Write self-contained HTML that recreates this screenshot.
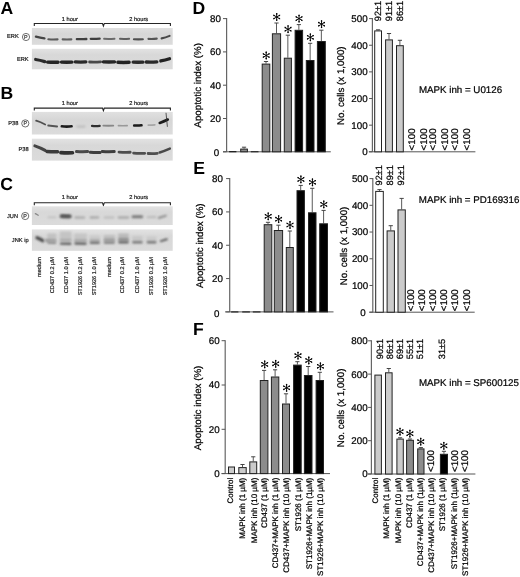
<!DOCTYPE html>
<html><head><meta charset="utf-8"><style>
html,body{margin:0;padding:0;background:#fff;width:520px;height:577px;overflow:hidden}
svg{display:block;font-family:"Liberation Sans", sans-serif;text-rendering:geometricPrecision;will-change:transform}
</style></head><body>
<svg width="520" height="577" viewBox="0 0 520 577">
<text x="0.60" y="14.40" font-size="17.6" text-anchor="start" font-weight="bold" fill="#000">A</text>
<text x="0.60" y="99.30" font-size="17.6" text-anchor="start" font-weight="bold" fill="#000">B</text>
<text x="0.30" y="190.30" font-size="17.6" text-anchor="start" font-weight="bold" fill="#000">C</text>
<text x="192.60" y="14.40" font-size="17.6" text-anchor="start" font-weight="bold" fill="#000">D</text>
<text x="193.30" y="173.60" font-size="17.6" text-anchor="start" font-weight="bold" fill="#000">E</text>
<text x="193.00" y="334.90" font-size="17.6" text-anchor="start" font-weight="bold" fill="#000">F</text>
<defs><filter id="bl" filterUnits="userSpaceOnUse" x="0" y="0" width="520" height="577"><feGaussianBlur stdDeviation="0.55"/></filter><filter id="bl15" filterUnits="userSpaceOnUse" x="0" y="0" width="520" height="577"><feGaussianBlur stdDeviation="0.75"/></filter><filter id="bl2" filterUnits="userSpaceOnUse" x="0" y="0" width="520" height="577"><feGaussianBlur stdDeviation="1.0"/></filter><linearGradient id="g1" x1="0" y1="0" x2="0" y2="1"><stop offset="0" stop-color="#e0e0e0"/><stop offset="0.35" stop-color="#d6d6d6"/><stop offset="1" stop-color="#dcdcdc"/></linearGradient><linearGradient id="g2" x1="0" y1="0" x2="0" y2="1"><stop offset="0" stop-color="#e2e2e2"/><stop offset="0.3" stop-color="#d8d8d8"/><stop offset="1" stop-color="#dbdbdb"/></linearGradient></defs>
<path d="M34.3 25.9V23.5H102.5L103.4 26.1L104.3 23.5H170.4V25.9" stroke="#262626" stroke-width="1.1" fill="none"/>
<text x="69.80" y="20.70" font-size="5.7" text-anchor="middle" font-weight="normal" fill="#222" stroke="#222" stroke-width="0.2">1 hour</text>
<text x="138.70" y="20.70" font-size="5.7" text-anchor="middle" font-weight="normal" fill="#222" stroke="#222" stroke-width="0.2">2 hours</text>
<text x="18.70" y="38.00" font-size="5.7" text-anchor="end" font-weight="normal" fill="#222" stroke="#222" stroke-width="0.2">ERK</text>
<circle cx="26.0" cy="37.0" r="3.6" stroke="#333" stroke-width="0.7" fill="none"/>
<text x="25.90" y="39.00" font-size="5.4" text-anchor="middle" font-weight="normal" fill="#333" stroke="#333" stroke-width="0.2">P</text>
<text x="28.60" y="61.00" font-size="5.7" text-anchor="end" font-weight="normal" fill="#222" stroke="#222" stroke-width="0.2">ERK</text>
<rect x="31.9" y="28.0" width="140.80" height="16.80" fill="url(#g1)"/>
<path d="M35.93 36.63Q40.20 37.80 44.47 38.37" stroke="#444" stroke-width="2.3" stroke-linecap="round" fill="none" filter="url(#bl15)"/>
<path d="M48.35 39.31Q52.95 39.65 57.55 39.39" stroke="#5a5a5a" stroke-width="2.1" stroke-linecap="round" fill="none" filter="url(#bl15)"/>
<path d="M62.65 39.40Q67.00 39.70 71.35 39.40" stroke="#5e5e5e" stroke-width="2.1" stroke-linecap="round" fill="none" filter="url(#bl15)"/>
<path d="M76.85 39.09Q81.60 39.35 86.35 39.01" stroke="#404040" stroke-width="2.3" stroke-linecap="round" fill="none" filter="url(#bl15)"/>
<path d="M90.75 38.78Q95.20 38.90 99.65 38.62" stroke="#3e3e3e" stroke-width="2.3" stroke-linecap="round" fill="none" filter="url(#bl15)"/>
<path d="M104.10 38.79Q109.30 39.05 114.50 38.71" stroke="#6a6a6a" stroke-width="2.0" stroke-linecap="round" fill="none" filter="url(#bl15)"/>
<path d="M120.00 38.79Q124.55 39.05 129.10 38.71" stroke="#5e5e5e" stroke-width="2.0" stroke-linecap="round" fill="none" filter="url(#bl15)"/>
<path d="M133.95 39.20Q138.40 39.50 142.85 39.20" stroke="#505050" stroke-width="2.1" stroke-linecap="round" fill="none" filter="url(#bl15)"/>
<path d="M148.45 38.87Q152.60 39.15 156.75 38.63" stroke="#545454" stroke-width="2.1" stroke-linecap="round" fill="none" filter="url(#bl15)"/>
<path d="M161.60 38.39Q165.60 37.75 169.60 35.91" stroke="#4a4a4a" stroke-width="2.1" stroke-linecap="round" fill="none" filter="url(#bl15)"/>
<rect x="31.9" y="48.8" width="140.80" height="20.50" fill="url(#g2)"/>
<path d="M35.66 59.47Q40.20 60.15 44.74 61.63" stroke="#2a2a2a" stroke-width="3.2" stroke-linecap="round" fill="none" filter="url(#bl15)"/>
<path d="M47.60 62.11Q52.85 62.45 58.10 62.19" stroke="#262626" stroke-width="3.4" stroke-linecap="round" fill="none" filter="url(#bl15)"/>
<path d="M61.50 62.10Q66.70 62.40 71.90 62.10" stroke="#262626" stroke-width="3.4" stroke-linecap="round" fill="none" filter="url(#bl15)"/>
<path d="M75.20 61.90Q80.55 62.20 85.90 61.90" stroke="#2c2c2c" stroke-width="3.2" stroke-linecap="round" fill="none" filter="url(#bl15)"/>
<path d="M89.60 61.98Q95.10 62.20 100.60 61.82" stroke="#4a4a4a" stroke-width="2.8" stroke-linecap="round" fill="none" filter="url(#bl15)"/>
<path d="M103.40 61.90Q108.95 62.20 114.50 61.90" stroke="#262626" stroke-width="3.4" stroke-linecap="round" fill="none" filter="url(#bl15)"/>
<path d="M117.90 62.30Q123.50 62.60 129.10 62.30" stroke="#222" stroke-width="3.4" stroke-linecap="round" fill="none" filter="url(#bl15)"/>
<path d="M133.15 62.10Q138.05 62.40 142.95 62.10" stroke="#2a2a2a" stroke-width="3.3" stroke-linecap="round" fill="none" filter="url(#bl15)"/>
<path d="M146.25 61.98Q151.55 62.20 156.85 61.82" stroke="#2a2a2a" stroke-width="3.3" stroke-linecap="round" fill="none" filter="url(#bl15)"/>
<path d="M160.80 60.98Q165.15 60.25 169.50 58.72" stroke="#222" stroke-width="3.3" stroke-linecap="round" fill="none" filter="url(#bl15)"/>
<path d="M34.3 110.5V108.1H102.5L103.4 110.69999999999999L104.3 108.1H170.4V110.5" stroke="#262626" stroke-width="1.1" fill="none"/>
<text x="69.80" y="104.80" font-size="5.7" text-anchor="middle" font-weight="normal" fill="#222" stroke="#222" stroke-width="0.2">1 hour</text>
<text x="138.70" y="104.80" font-size="5.7" text-anchor="middle" font-weight="normal" fill="#222" stroke="#222" stroke-width="0.2">2 hours</text>
<text x="18.30" y="125.40" font-size="5.7" text-anchor="end" font-weight="normal" fill="#222" stroke="#222" stroke-width="0.2">P38</text>
<circle cx="25.3" cy="123.4" r="3.6" stroke="#333" stroke-width="0.7" fill="none"/>
<text x="25.20" y="125.40" font-size="5.4" text-anchor="middle" font-weight="normal" fill="#333" stroke="#333" stroke-width="0.2">P</text>
<text x="28.60" y="151.20" font-size="5.7" text-anchor="end" font-weight="normal" fill="#222" stroke="#222" stroke-width="0.2">P38</text>
<rect x="31.9" y="111.9" width="140.80" height="22.60" fill="url(#g1)"/>
<path d="M36.13 120.65Q40.65 122.05 45.17 124.45" stroke="#505050" stroke-width="1.8" stroke-linecap="round" fill="none" filter="url(#bl)"/>
<path d="M48.19 125.50Q52.65 125.80 57.11 126.50" stroke="#555" stroke-width="1.8" stroke-linecap="round" fill="none" filter="url(#bl)"/>
<path d="M61.80 126.30Q66.70 126.90 71.60 126.30" stroke="#1e1e1e" stroke-width="2.6" stroke-linecap="round" fill="none" filter="url(#bl)"/>
<path d="M77.30 126.50Q80.90 126.70 84.50 126.50" stroke="#b8b8b8" stroke-width="1.8" stroke-linecap="round" fill="none" filter="url(#bl2)"/>
<path d="M92.05 125.90Q95.85 126.30 99.65 125.90" stroke="#2e2e2e" stroke-width="2.3" stroke-linecap="round" fill="none" filter="url(#bl)"/>
<path d="M103.30 125.60Q108.30 125.90 113.30 125.60" stroke="#888" stroke-width="1.8" stroke-linecap="round" fill="none" filter="url(#bl)"/>
<path d="M118.45 125.60Q122.80 125.90 127.15 125.60" stroke="#999" stroke-width="1.7" stroke-linecap="round" fill="none" filter="url(#bl)"/>
<path d="M134.20 125.47Q137.85 125.70 141.50 125.33" stroke="#1a1a1a" stroke-width="2.6" stroke-linecap="round" fill="none" filter="url(#bl)"/>
<path d="M148.20 125.16Q151.55 125.20 154.90 124.84" stroke="#a6a6a6" stroke-width="1.6" stroke-linecap="round" fill="none" filter="url(#bl)"/>
<path d="M159.70 122.90Q163.75 121.50 167.80 119.50" stroke="#1e1e1e" stroke-width="2.6" stroke-linecap="round" fill="none" filter="url(#bl)"/>
<line x1="166.00" y1="112.80" x2="167.40" y2="126.80" stroke="#333" stroke-width="0.8"/>
<rect x="31.9" y="138.7" width="140.80" height="21.90" fill="url(#g2)"/>
<path d="M34.87 145.90Q40.00 147.55 45.13 150.40" stroke="#444" stroke-width="3.0" stroke-linecap="round" fill="none" filter="url(#bl15)"/>
<path d="M46.90 151.45Q52.25 151.90 57.60 151.75" stroke="#3a3a3a" stroke-width="3.4" stroke-linecap="round" fill="none" filter="url(#bl15)"/>
<path d="M60.90 152.62Q66.70 153.10 72.50 152.78" stroke="#303030" stroke-width="3.6" stroke-linecap="round" fill="none" filter="url(#bl15)"/>
<path d="M76.50 151.51Q82.05 151.85 87.60 151.59" stroke="#484848" stroke-width="3.0" stroke-linecap="round" fill="none" filter="url(#bl15)"/>
<path d="M90.40 152.32Q95.20 152.70 100.00 152.48" stroke="#3c3c3c" stroke-width="3.0" stroke-linecap="round" fill="none" filter="url(#bl15)"/>
<path d="M102.30 151.51Q108.25 151.85 114.20 151.59" stroke="#3e3e3e" stroke-width="3.0" stroke-linecap="round" fill="none" filter="url(#bl15)"/>
<path d="M119.05 152.12Q124.60 152.50 130.15 152.28" stroke="#4e4e4e" stroke-width="2.9" stroke-linecap="round" fill="none" filter="url(#bl15)"/>
<path d="M133.60 153.21Q139.15 153.55 144.70 153.29" stroke="#505050" stroke-width="2.8" stroke-linecap="round" fill="none" filter="url(#bl15)"/>
<path d="M148.10 153.49Q152.70 153.75 157.30 153.41" stroke="#505050" stroke-width="2.8" stroke-linecap="round" fill="none" filter="url(#bl15)"/>
<path d="M159.67 152.45Q164.75 150.80 169.83 148.55" stroke="#4a4a4a" stroke-width="2.5" stroke-linecap="round" fill="none" filter="url(#bl15)"/>
<path d="M34.3 205.20000000000002V202.8H102.5L103.4 205.4L104.3 202.8H170.4V205.20000000000002" stroke="#262626" stroke-width="1.1" fill="none"/>
<text x="69.80" y="198.60" font-size="5.7" text-anchor="middle" font-weight="normal" fill="#222" stroke="#222" stroke-width="0.2">1 hour</text>
<text x="138.70" y="198.60" font-size="5.7" text-anchor="middle" font-weight="normal" fill="#222" stroke="#222" stroke-width="0.2">2 hours</text>
<text x="18.00" y="217.60" font-size="5.7" text-anchor="end" font-weight="normal" fill="#222" stroke="#222" stroke-width="0.2">JUN</text>
<circle cx="25.2" cy="216.0" r="3.6" stroke="#333" stroke-width="0.7" fill="none"/>
<text x="25.10" y="218.00" font-size="5.4" text-anchor="middle" font-weight="normal" fill="#333" stroke="#333" stroke-width="0.2">P</text>
<text x="28.60" y="242.30" font-size="5.7" text-anchor="end" font-weight="normal" fill="#222" stroke="#222" stroke-width="0.2">JNK ip</text>
<rect x="31.9" y="206.3" width="140.80" height="18.70" fill="url(#g2)"/>
<path d="M35.41 213.65Q36.80 214.45 38.19 215.25" stroke="#8a8a8a" stroke-width="1.4" stroke-linecap="round" fill="none" filter="url(#bl)"/>
<path d="M48.75 217.20Q52.00 217.20 55.25 217.20" stroke="#c6c6c6" stroke-width="2.5" stroke-linecap="round" fill="none" filter="url(#bl2)"/>
<path d="M61.50 216.32Q65.65 216.55 69.80 216.38" stroke="#6a6a6a" stroke-width="4.0" stroke-linecap="round" fill="none" filter="url(#bl2)"/>
<path d="M61.90 216.02Q65.75 216.10 69.60 216.18" stroke="#4a4a4a" stroke-width="1.8" stroke-linecap="round" fill="none" filter="url(#bl2)"/>
<path d="M75.70 217.51Q79.85 217.55 84.00 217.59" stroke="#b2b2b2" stroke-width="2.8" stroke-linecap="round" fill="none" filter="url(#bl2)"/>
<path d="M90.80 217.49Q94.45 217.45 98.10 217.41" stroke="#a8a8a8" stroke-width="2.4" stroke-linecap="round" fill="none" filter="url(#bl2)"/>
<path d="M104.75 217.60Q109.00 217.60 113.25 217.60" stroke="#c0c0c0" stroke-width="2.5" stroke-linecap="round" fill="none" filter="url(#bl2)"/>
<path d="M119.00 217.50Q123.50 217.50 128.00 217.50" stroke="#b0b0b0" stroke-width="2.8" stroke-linecap="round" fill="none" filter="url(#bl2)"/>
<path d="M133.00 216.80Q137.35 216.80 141.70 216.80" stroke="#7a7a7a" stroke-width="3.0" stroke-linecap="round" fill="none" filter="url(#bl2)"/>
<path d="M147.90 217.09Q151.55 217.05 155.20 217.01" stroke="#bbb" stroke-width="2.4" stroke-linecap="round" fill="none" filter="url(#bl2)"/>
<path d="M158.85 217.87Q162.30 216.80 165.75 215.73" stroke="#929292" stroke-width="2.2" stroke-linecap="round" fill="none" filter="url(#bl2)"/>
<rect x="31.9" y="229.4" width="140.80" height="21.40" fill="url(#g2)"/>
<rect x="47.3" y="233.5" width="9.0" height="9" fill="#c2c2c2" filter="url(#bl2)"/>
<rect x="59.8" y="231.5" width="11.7" height="10" fill="#c4c4c4" filter="url(#bl2)"/>
<rect x="74.3" y="233.5" width="12.5" height="8" fill="#c6c6c6" filter="url(#bl2)"/>
<rect x="89.6" y="235.5" width="10.3" height="6" fill="#cacaca" filter="url(#bl2)"/>
<rect x="103.8" y="235.0" width="11.1" height="7" fill="#c0c0c0" filter="url(#bl2)"/>
<rect x="118.3" y="233.5" width="10.4" height="8" fill="#bababa" filter="url(#bl2)"/>
<rect x="132.2" y="236.0" width="10.4" height="5" fill="#c8c8c8" filter="url(#bl2)"/>
<rect x="146.7" y="236.5" width="9.7" height="5" fill="#cacaca" filter="url(#bl2)"/>
<path d="M37.02 237.77Q39.85 238.90 42.68 240.63" stroke="#4a4a4a" stroke-width="3.4" stroke-linecap="round" fill="none" filter="url(#bl2)"/>
<path d="M45.72 240.27Q46.75 240.50 47.78 240.73" stroke="#9a9a9a" stroke-width="2.5" stroke-linecap="round" fill="none" filter="url(#bl2)"/>
<path d="M48.30 240.02Q51.80 240.10 55.30 240.18" stroke="#9a9a9a" stroke-width="2.0" stroke-linecap="round" fill="none" filter="url(#bl2)"/>
<path d="M48.40 242.62Q51.80 242.70 55.20 242.78" stroke="#8a8a8a" stroke-width="2.2" stroke-linecap="round" fill="none" filter="url(#bl2)"/>
<path d="M60.60 240.00Q65.65 240.00 70.70 240.00" stroke="#a0a0a0" stroke-width="1.6" stroke-linecap="round" fill="none" filter="url(#bl2)"/>
<path d="M61.00 243.61Q65.65 243.65 70.30 243.69" stroke="#5e5e5e" stroke-width="2.4" stroke-linecap="round" fill="none" filter="url(#bl2)"/>
<path d="M75.20 240.40Q80.55 240.40 85.90 240.40" stroke="#9c9c9c" stroke-width="1.8" stroke-linecap="round" fill="none" filter="url(#bl2)"/>
<path d="M75.60 243.42Q80.55 243.50 85.50 243.58" stroke="#6a6a6a" stroke-width="2.6" stroke-linecap="round" fill="none" filter="url(#bl2)"/>
<path d="M90.40 240.20Q94.75 240.20 99.10 240.20" stroke="#a0a0a0" stroke-width="1.6" stroke-linecap="round" fill="none" filter="url(#bl2)"/>
<path d="M90.80 242.80Q94.75 242.80 98.70 242.80" stroke="#6e6e6e" stroke-width="2.4" stroke-linecap="round" fill="none" filter="url(#bl2)"/>
<path d="M104.80 239.80Q109.35 239.80 113.90 239.80" stroke="#959595" stroke-width="2.0" stroke-linecap="round" fill="none" filter="url(#bl2)"/>
<path d="M105.00 242.60Q109.35 242.60 113.70 242.60" stroke="#7a7a7a" stroke-width="2.4" stroke-linecap="round" fill="none" filter="url(#bl2)"/>
<path d="M119.40 239.40Q123.50 239.40 127.60 239.40" stroke="#888" stroke-width="2.2" stroke-linecap="round" fill="none" filter="url(#bl2)"/>
<path d="M119.60 242.20Q123.50 242.20 127.40 242.20" stroke="#666" stroke-width="2.6" stroke-linecap="round" fill="none" filter="url(#bl2)"/>
<path d="M133.40 242.20Q137.40 242.20 141.40 242.20" stroke="#767676" stroke-width="2.4" stroke-linecap="round" fill="none" filter="url(#bl2)"/>
<path d="M147.90 242.20Q151.55 242.20 155.20 242.20" stroke="#767676" stroke-width="2.4" stroke-linecap="round" fill="none" filter="url(#bl2)"/>
<path d="M160.86 241.11Q163.85 240.20 166.84 239.29" stroke="#5a5a5a" stroke-width="2.0" stroke-linecap="round" fill="none" filter="url(#bl2)"/>
<text x="40.70" y="257.00" font-size="5.6" text-anchor="end" font-weight="normal" fill="#222" transform="rotate(-90 40.7 257.0)" stroke="#222" stroke-width="0.2">medium</text>
<text x="53.60" y="257.00" font-size="5.6" text-anchor="end" font-weight="normal" fill="#222" transform="rotate(-90 53.6 257.0)" stroke="#222" stroke-width="0.2">CD437 0.2 µM</text>
<text x="68.00" y="257.00" font-size="5.6" text-anchor="end" font-weight="normal" fill="#222" transform="rotate(-90 68.0 257.0)" stroke="#222" stroke-width="0.2">CD437 1.0 µM</text>
<text x="81.60" y="257.00" font-size="5.6" text-anchor="end" font-weight="normal" fill="#222" transform="rotate(-90 81.6 257.0)" stroke="#222" stroke-width="0.2">ST1926 0.2 µM</text>
<text x="96.00" y="257.00" font-size="5.6" text-anchor="end" font-weight="normal" fill="#222" transform="rotate(-90 96.0 257.0)" stroke="#222" stroke-width="0.2">ST1926 1.0 µM</text>
<text x="111.30" y="257.00" font-size="5.6" text-anchor="end" font-weight="normal" fill="#222" transform="rotate(-90 111.3 257.0)" stroke="#222" stroke-width="0.2">medium</text>
<text x="124.30" y="257.00" font-size="5.6" text-anchor="end" font-weight="normal" fill="#222" transform="rotate(-90 124.3 257.0)" stroke="#222" stroke-width="0.2">CD437 0.2 µM</text>
<text x="138.70" y="257.00" font-size="5.6" text-anchor="end" font-weight="normal" fill="#222" transform="rotate(-90 138.7 257.0)" stroke="#222" stroke-width="0.2">CD437 1.0 µM</text>
<text x="152.60" y="257.00" font-size="5.6" text-anchor="end" font-weight="normal" fill="#222" transform="rotate(-90 152.6 257.0)" stroke="#222" stroke-width="0.2">ST1926 0.2 µM</text>
<text x="167.00" y="257.00" font-size="5.6" text-anchor="end" font-weight="normal" fill="#222" transform="rotate(-90 167.0 257.0)" stroke="#222" stroke-width="0.2">ST1926 1.0 µM</text>
<line x1="226.60" y1="18.10" x2="226.60" y2="151.80" stroke="#666" stroke-width="1.2"/>
<line x1="223.00" y1="18.60" x2="226.60" y2="18.60" stroke="#555" stroke-width="1"/>
<text x="220.90" y="22.05" font-size="9.75" text-anchor="end" font-weight="normal" fill="#000" stroke="#000" stroke-width="0.22">80</text>
<line x1="223.00" y1="51.90" x2="226.60" y2="51.90" stroke="#555" stroke-width="1"/>
<text x="220.90" y="55.35" font-size="9.75" text-anchor="end" font-weight="normal" fill="#000" stroke="#000" stroke-width="0.22">60</text>
<line x1="223.00" y1="85.20" x2="226.60" y2="85.20" stroke="#555" stroke-width="1"/>
<text x="220.90" y="88.65" font-size="9.75" text-anchor="end" font-weight="normal" fill="#000" stroke="#000" stroke-width="0.22">40</text>
<line x1="223.00" y1="118.50" x2="226.60" y2="118.50" stroke="#555" stroke-width="1"/>
<text x="220.90" y="121.95" font-size="9.75" text-anchor="end" font-weight="normal" fill="#000" stroke="#000" stroke-width="0.22">20</text>
<line x1="223.00" y1="151.80" x2="226.60" y2="151.80" stroke="#555" stroke-width="1"/>
<text x="219.10" y="155.85" font-size="9.75" text-anchor="end" font-weight="normal" fill="#000" stroke="#000" stroke-width="0.22">0</text>
<line x1="223.00" y1="151.80" x2="330.80" y2="151.80" stroke="#555" stroke-width="1"/>
<rect x="229.60" y="151.50" width="6.30" height="0.30" fill="#000" stroke="#222" stroke-width="1"/>
<line x1="244.05" y1="147.20" x2="244.05" y2="148.60" stroke="#5a5a5a" stroke-width="1"/>
<line x1="241.95" y1="147.20" x2="246.15" y2="147.20" stroke="#444" stroke-width="1"/>
<rect x="240.70" y="149.10" width="6.70" height="2.70" fill="#8c8c8c" stroke="#222" stroke-width="1"/>
<rect x="251.30" y="151.70" width="6.70" height="0.10" fill="#000" stroke="#222" stroke-width="1"/>
<line x1="266.00" y1="61.50" x2="266.00" y2="63.60" stroke="#5a5a5a" stroke-width="1"/>
<line x1="263.90" y1="61.50" x2="268.10" y2="61.50" stroke="#444" stroke-width="1"/>
<rect x="262.20" y="64.10" width="7.60" height="87.70" fill="#8c8c8c" stroke="#222" stroke-width="1"/>
<path d="M266.20 51.60L266.20 59.40M262.82 53.55L269.58 57.45M269.58 53.55L262.82 57.45" stroke="#000" stroke-width="0.95" fill="none"/><g fill="#000"><circle cx="268.90" cy="57.06" r="0.78"/><circle cx="266.20" cy="58.62" r="0.78"/><circle cx="263.50" cy="57.06" r="0.78"/><circle cx="263.50" cy="53.94" r="0.78"/><circle cx="266.20" cy="52.38" r="0.78"/><circle cx="268.90" cy="53.94" r="0.78"/></g>
<line x1="276.50" y1="23.00" x2="276.50" y2="33.30" stroke="#5a5a5a" stroke-width="1"/>
<line x1="274.40" y1="23.00" x2="278.60" y2="23.00" stroke="#444" stroke-width="1"/>
<rect x="272.40" y="33.80" width="8.20" height="118.00" fill="#8c8c8c" stroke="#222" stroke-width="1"/>
<path d="M276.70 13.10L276.70 20.90M273.32 15.05L280.08 18.95M280.08 15.05L273.32 18.95" stroke="#000" stroke-width="0.95" fill="none"/><g fill="#000"><circle cx="279.40" cy="18.56" r="0.78"/><circle cx="276.70" cy="20.12" r="0.78"/><circle cx="274.00" cy="18.56" r="0.78"/><circle cx="274.00" cy="15.44" r="0.78"/><circle cx="276.70" cy="13.88" r="0.78"/><circle cx="279.40" cy="15.44" r="0.78"/></g>
<line x1="287.85" y1="35.20" x2="287.85" y2="57.70" stroke="#5a5a5a" stroke-width="1"/>
<line x1="285.75" y1="35.20" x2="289.95" y2="35.20" stroke="#444" stroke-width="1"/>
<rect x="284.30" y="58.20" width="7.10" height="93.60" fill="#8c8c8c" stroke="#222" stroke-width="1"/>
<path d="M288.05 25.30L288.05 33.10M284.67 27.25L291.43 31.15M291.43 27.25L284.67 31.15" stroke="#000" stroke-width="0.95" fill="none"/><g fill="#000"><circle cx="290.75" cy="30.76" r="0.78"/><circle cx="288.05" cy="32.32" r="0.78"/><circle cx="285.35" cy="30.76" r="0.78"/><circle cx="285.35" cy="27.64" r="0.78"/><circle cx="288.05" cy="26.08" r="0.78"/><circle cx="290.75" cy="27.64" r="0.78"/></g>
<line x1="298.85" y1="24.60" x2="298.85" y2="29.80" stroke="#5a5a5a" stroke-width="1"/>
<line x1="296.75" y1="24.60" x2="300.95" y2="24.60" stroke="#444" stroke-width="1"/>
<rect x="295.10" y="30.30" width="7.50" height="121.50" fill="#000" stroke="#222" stroke-width="1"/>
<path d="M299.05 14.70L299.05 22.50M295.67 16.65L302.43 20.55M302.43 16.65L295.67 20.55" stroke="#000" stroke-width="0.95" fill="none"/><g fill="#000"><circle cx="301.75" cy="20.16" r="0.78"/><circle cx="299.05" cy="21.72" r="0.78"/><circle cx="296.35" cy="20.16" r="0.78"/><circle cx="296.35" cy="17.04" r="0.78"/><circle cx="299.05" cy="15.48" r="0.78"/><circle cx="301.75" cy="17.04" r="0.78"/></g>
<line x1="310.15" y1="43.30" x2="310.15" y2="60.00" stroke="#5a5a5a" stroke-width="1"/>
<line x1="308.05" y1="43.30" x2="312.25" y2="43.30" stroke="#444" stroke-width="1"/>
<rect x="306.30" y="60.50" width="7.70" height="91.30" fill="#000" stroke="#222" stroke-width="1"/>
<path d="M310.35 33.40L310.35 41.20M306.97 35.35L313.73 39.25M313.73 35.35L306.97 39.25" stroke="#000" stroke-width="0.95" fill="none"/><g fill="#000"><circle cx="313.05" cy="38.86" r="0.78"/><circle cx="310.35" cy="40.42" r="0.78"/><circle cx="307.65" cy="38.86" r="0.78"/><circle cx="307.65" cy="35.74" r="0.78"/><circle cx="310.35" cy="34.18" r="0.78"/><circle cx="313.05" cy="35.74" r="0.78"/></g>
<line x1="321.35" y1="30.20" x2="321.35" y2="41.00" stroke="#5a5a5a" stroke-width="1"/>
<line x1="319.25" y1="30.20" x2="323.45" y2="30.20" stroke="#444" stroke-width="1"/>
<rect x="317.40" y="41.50" width="7.90" height="110.30" fill="#000" stroke="#222" stroke-width="1"/>
<path d="M321.55 20.30L321.55 28.10M318.17 22.25L324.93 26.15M324.93 22.25L318.17 26.15" stroke="#000" stroke-width="0.95" fill="none"/><g fill="#000"><circle cx="324.25" cy="25.76" r="0.78"/><circle cx="321.55" cy="27.32" r="0.78"/><circle cx="318.85" cy="25.76" r="0.78"/><circle cx="318.85" cy="22.64" r="0.78"/><circle cx="321.55" cy="21.08" r="0.78"/><circle cx="324.25" cy="22.64" r="0.78"/></g>
<text x="201.20" y="85.35" font-size="9.75" text-anchor="middle" font-weight="normal" fill="#000" transform="rotate(-90 201.2 85.35)" stroke="#000" stroke-width="0.22">Apoptotic index (%)</text>
<line x1="229.70" y1="178.10" x2="229.70" y2="311.90" stroke="#666" stroke-width="1.2"/>
<line x1="226.10" y1="178.60" x2="229.70" y2="178.60" stroke="#555" stroke-width="1"/>
<text x="222.90" y="182.05" font-size="9.75" text-anchor="end" font-weight="normal" fill="#000" stroke="#000" stroke-width="0.22">80</text>
<line x1="226.10" y1="211.92" x2="229.70" y2="211.92" stroke="#555" stroke-width="1"/>
<text x="222.90" y="215.37" font-size="9.75" text-anchor="end" font-weight="normal" fill="#000" stroke="#000" stroke-width="0.22">60</text>
<line x1="226.10" y1="245.25" x2="229.70" y2="245.25" stroke="#555" stroke-width="1"/>
<text x="222.90" y="248.70" font-size="9.75" text-anchor="end" font-weight="normal" fill="#000" stroke="#000" stroke-width="0.22">40</text>
<line x1="226.10" y1="278.57" x2="229.70" y2="278.57" stroke="#555" stroke-width="1"/>
<text x="222.90" y="282.02" font-size="9.75" text-anchor="end" font-weight="normal" fill="#000" stroke="#000" stroke-width="0.22">20</text>
<line x1="226.10" y1="311.90" x2="229.70" y2="311.90" stroke="#555" stroke-width="1"/>
<text x="219.50" y="316.55" font-size="9.75" text-anchor="end" font-weight="normal" fill="#000" stroke="#000" stroke-width="0.22">0</text>
<line x1="225.00" y1="311.90" x2="333.50" y2="311.90" stroke="#555" stroke-width="1"/>
<rect x="231.60" y="311.90" width="6.30" height="0.10" fill="#000" stroke="#222" stroke-width="1"/>
<rect x="242.70" y="311.90" width="6.70" height="0.10" fill="#000" stroke="#222" stroke-width="1"/>
<rect x="253.30" y="311.90" width="6.70" height="0.10" fill="#000" stroke="#222" stroke-width="1"/>
<line x1="268.00" y1="222.30" x2="268.00" y2="224.20" stroke="#5a5a5a" stroke-width="1"/>
<line x1="265.90" y1="222.30" x2="270.10" y2="222.30" stroke="#444" stroke-width="1"/>
<rect x="264.20" y="224.70" width="7.60" height="87.20" fill="#8c8c8c" stroke="#222" stroke-width="1"/>
<path d="M268.20 212.40L268.20 220.20M264.82 214.35L271.58 218.25M271.58 214.35L264.82 218.25" stroke="#000" stroke-width="0.95" fill="none"/><g fill="#000"><circle cx="270.90" cy="217.86" r="0.78"/><circle cx="268.20" cy="219.42" r="0.78"/><circle cx="265.50" cy="217.86" r="0.78"/><circle cx="265.50" cy="214.74" r="0.78"/><circle cx="268.20" cy="213.18" r="0.78"/><circle cx="270.90" cy="214.74" r="0.78"/></g>
<line x1="278.45" y1="225.20" x2="278.45" y2="230.00" stroke="#5a5a5a" stroke-width="1"/>
<line x1="276.35" y1="225.20" x2="280.55" y2="225.20" stroke="#444" stroke-width="1"/>
<rect x="274.30" y="230.50" width="8.30" height="81.40" fill="#8c8c8c" stroke="#222" stroke-width="1"/>
<path d="M278.65 215.30L278.65 223.10M275.27 217.25L282.03 221.15M282.03 217.25L275.27 221.15" stroke="#000" stroke-width="0.95" fill="none"/><g fill="#000"><circle cx="281.35" cy="220.76" r="0.78"/><circle cx="278.65" cy="222.32" r="0.78"/><circle cx="275.95" cy="220.76" r="0.78"/><circle cx="275.95" cy="217.64" r="0.78"/><circle cx="278.65" cy="216.08" r="0.78"/><circle cx="281.35" cy="217.64" r="0.78"/></g>
<line x1="289.80" y1="231.00" x2="289.80" y2="247.00" stroke="#5a5a5a" stroke-width="1"/>
<line x1="287.70" y1="231.00" x2="291.90" y2="231.00" stroke="#444" stroke-width="1"/>
<rect x="286.30" y="247.50" width="7.00" height="64.40" fill="#8c8c8c" stroke="#222" stroke-width="1"/>
<path d="M290.00 221.10L290.00 228.90M286.62 223.05L293.38 226.95M293.38 223.05L286.62 226.95" stroke="#000" stroke-width="0.95" fill="none"/><g fill="#000"><circle cx="292.70" cy="226.56" r="0.78"/><circle cx="290.00" cy="228.12" r="0.78"/><circle cx="287.30" cy="226.56" r="0.78"/><circle cx="287.30" cy="223.44" r="0.78"/><circle cx="290.00" cy="221.88" r="0.78"/><circle cx="292.70" cy="223.44" r="0.78"/></g>
<line x1="300.70" y1="185.40" x2="300.70" y2="190.20" stroke="#5a5a5a" stroke-width="1"/>
<line x1="298.60" y1="185.40" x2="302.80" y2="185.40" stroke="#444" stroke-width="1"/>
<rect x="297.00" y="190.70" width="7.40" height="121.20" fill="#000" stroke="#222" stroke-width="1"/>
<path d="M300.90 175.50L300.90 183.30M297.52 177.45L304.28 181.35M304.28 177.45L297.52 181.35" stroke="#000" stroke-width="0.95" fill="none"/><g fill="#000"><circle cx="303.60" cy="180.96" r="0.78"/><circle cx="300.90" cy="182.52" r="0.78"/><circle cx="298.20" cy="180.96" r="0.78"/><circle cx="298.20" cy="177.84" r="0.78"/><circle cx="300.90" cy="176.28" r="0.78"/><circle cx="303.60" cy="177.84" r="0.78"/></g>
<line x1="312.25" y1="188.30" x2="312.25" y2="212.30" stroke="#5a5a5a" stroke-width="1"/>
<line x1="310.15" y1="188.30" x2="314.35" y2="188.30" stroke="#444" stroke-width="1"/>
<rect x="308.50" y="212.80" width="7.50" height="99.10" fill="#000" stroke="#222" stroke-width="1"/>
<path d="M312.45 178.40L312.45 186.20M309.07 180.35L315.83 184.25M315.83 180.35L309.07 184.25" stroke="#000" stroke-width="0.95" fill="none"/><g fill="#000"><circle cx="315.15" cy="183.86" r="0.78"/><circle cx="312.45" cy="185.42" r="0.78"/><circle cx="309.75" cy="183.86" r="0.78"/><circle cx="309.75" cy="180.74" r="0.78"/><circle cx="312.45" cy="179.18" r="0.78"/><circle cx="315.15" cy="180.74" r="0.78"/></g>
<line x1="323.60" y1="210.40" x2="323.60" y2="223.30" stroke="#5a5a5a" stroke-width="1"/>
<line x1="321.50" y1="210.40" x2="325.70" y2="210.40" stroke="#444" stroke-width="1"/>
<rect x="319.70" y="223.80" width="7.80" height="88.10" fill="#000" stroke="#222" stroke-width="1"/>
<path d="M323.80 200.50L323.80 208.30M320.42 202.45L327.18 206.35M327.18 202.45L320.42 206.35" stroke="#000" stroke-width="0.95" fill="none"/><g fill="#000"><circle cx="326.50" cy="205.96" r="0.78"/><circle cx="323.80" cy="207.52" r="0.78"/><circle cx="321.10" cy="205.96" r="0.78"/><circle cx="321.10" cy="202.84" r="0.78"/><circle cx="323.80" cy="201.28" r="0.78"/><circle cx="326.50" cy="202.84" r="0.78"/></g>
<text x="203.40" y="245.70" font-size="9.75" text-anchor="middle" font-weight="normal" fill="#000" transform="rotate(-90 203.4 245.7)" stroke="#000" stroke-width="0.22">Apoptotic index (%)</text>
<line x1="225.20" y1="340.20" x2="225.20" y2="473.60" stroke="#666" stroke-width="1.2"/>
<line x1="221.60" y1="340.70" x2="225.20" y2="340.70" stroke="#555" stroke-width="1"/>
<text x="219.70" y="344.15" font-size="9.75" text-anchor="end" font-weight="normal" fill="#000" stroke="#000" stroke-width="0.22">60</text>
<line x1="221.60" y1="385.00" x2="225.20" y2="385.00" stroke="#555" stroke-width="1"/>
<text x="219.70" y="388.45" font-size="9.75" text-anchor="end" font-weight="normal" fill="#000" stroke="#000" stroke-width="0.22">40</text>
<line x1="221.60" y1="429.30" x2="225.20" y2="429.30" stroke="#555" stroke-width="1"/>
<text x="219.70" y="432.75" font-size="9.75" text-anchor="end" font-weight="normal" fill="#000" stroke="#000" stroke-width="0.22">20</text>
<line x1="221.60" y1="473.60" x2="225.20" y2="473.60" stroke="#555" stroke-width="1"/>
<text x="219.70" y="477.05" font-size="9.75" text-anchor="end" font-weight="normal" fill="#000" stroke="#000" stroke-width="0.22">0</text>
<line x1="221.60" y1="473.60" x2="330.00" y2="473.60" stroke="#555" stroke-width="1"/>
<rect x="228.50" y="467.00" width="6.00" height="6.60" fill="#cbcbcb" stroke="#222" stroke-width="1"/>
<line x1="242.50" y1="464.50" x2="242.50" y2="467.10" stroke="#5a5a5a" stroke-width="1"/>
<line x1="240.40" y1="464.50" x2="244.60" y2="464.50" stroke="#444" stroke-width="1"/>
<rect x="238.80" y="467.60" width="7.40" height="6.00" fill="#cbcbcb" stroke="#222" stroke-width="1"/>
<line x1="253.25" y1="456.80" x2="253.25" y2="461.40" stroke="#5a5a5a" stroke-width="1"/>
<line x1="251.15" y1="456.80" x2="255.35" y2="456.80" stroke="#444" stroke-width="1"/>
<rect x="249.80" y="461.90" width="6.90" height="11.70" fill="#cbcbcb" stroke="#222" stroke-width="1"/>
<line x1="264.10" y1="370.40" x2="264.10" y2="380.00" stroke="#5a5a5a" stroke-width="1"/>
<line x1="262.00" y1="370.40" x2="266.20" y2="370.40" stroke="#444" stroke-width="1"/>
<rect x="260.30" y="380.50" width="7.60" height="93.10" fill="#8c8c8c" stroke="#222" stroke-width="1"/>
<path d="M264.70 360.50L264.70 368.30M261.32 362.45L268.08 366.35M268.08 362.45L261.32 366.35" stroke="#000" stroke-width="0.95" fill="none"/><g fill="#000"><circle cx="267.40" cy="365.96" r="0.78"/><circle cx="264.70" cy="367.52" r="0.78"/><circle cx="262.00" cy="365.96" r="0.78"/><circle cx="262.00" cy="362.84" r="0.78"/><circle cx="264.70" cy="361.28" r="0.78"/><circle cx="267.40" cy="362.84" r="0.78"/></g>
<line x1="275.10" y1="369.80" x2="275.10" y2="376.50" stroke="#5a5a5a" stroke-width="1"/>
<line x1="273.00" y1="369.80" x2="277.20" y2="369.80" stroke="#444" stroke-width="1"/>
<rect x="271.40" y="377.00" width="7.40" height="96.60" fill="#8c8c8c" stroke="#222" stroke-width="1"/>
<path d="M275.70 359.90L275.70 367.70M272.32 361.85L279.08 365.75M279.08 361.85L272.32 365.75" stroke="#000" stroke-width="0.95" fill="none"/><g fill="#000"><circle cx="278.40" cy="365.36" r="0.78"/><circle cx="275.70" cy="366.92" r="0.78"/><circle cx="273.00" cy="365.36" r="0.78"/><circle cx="273.00" cy="362.24" r="0.78"/><circle cx="275.70" cy="360.68" r="0.78"/><circle cx="278.40" cy="362.24" r="0.78"/></g>
<line x1="286.00" y1="393.80" x2="286.00" y2="403.50" stroke="#5a5a5a" stroke-width="1"/>
<line x1="283.90" y1="393.80" x2="288.10" y2="393.80" stroke="#444" stroke-width="1"/>
<rect x="282.50" y="404.00" width="7.00" height="69.60" fill="#8c8c8c" stroke="#222" stroke-width="1"/>
<path d="M286.60 383.90L286.60 391.70M283.22 385.85L289.98 389.75M289.98 385.85L283.22 389.75" stroke="#000" stroke-width="0.95" fill="none"/><g fill="#000"><circle cx="289.30" cy="389.36" r="0.78"/><circle cx="286.60" cy="390.92" r="0.78"/><circle cx="283.90" cy="389.36" r="0.78"/><circle cx="283.90" cy="386.24" r="0.78"/><circle cx="286.60" cy="384.68" r="0.78"/><circle cx="289.30" cy="386.24" r="0.78"/></g>
<line x1="297.40" y1="361.70" x2="297.40" y2="364.60" stroke="#5a5a5a" stroke-width="1"/>
<line x1="295.30" y1="361.70" x2="299.50" y2="361.70" stroke="#444" stroke-width="1"/>
<rect x="293.60" y="365.10" width="7.60" height="108.50" fill="#000" stroke="#222" stroke-width="1"/>
<path d="M298.00 351.80L298.00 359.60M294.62 353.75L301.38 357.65M301.38 353.75L294.62 357.65" stroke="#000" stroke-width="0.95" fill="none"/><g fill="#000"><circle cx="300.70" cy="357.26" r="0.78"/><circle cx="298.00" cy="358.82" r="0.78"/><circle cx="295.30" cy="357.26" r="0.78"/><circle cx="295.30" cy="354.14" r="0.78"/><circle cx="298.00" cy="352.58" r="0.78"/><circle cx="300.70" cy="354.14" r="0.78"/></g>
<line x1="308.20" y1="366.50" x2="308.20" y2="375.00" stroke="#5a5a5a" stroke-width="1"/>
<line x1="306.10" y1="366.50" x2="310.30" y2="366.50" stroke="#444" stroke-width="1"/>
<rect x="304.40" y="375.50" width="7.60" height="98.10" fill="#000" stroke="#222" stroke-width="1"/>
<path d="M308.80 356.60L308.80 364.40M305.42 358.55L312.18 362.45M312.18 358.55L305.42 362.45" stroke="#000" stroke-width="0.95" fill="none"/><g fill="#000"><circle cx="311.50" cy="362.06" r="0.78"/><circle cx="308.80" cy="363.62" r="0.78"/><circle cx="306.10" cy="362.06" r="0.78"/><circle cx="306.10" cy="358.94" r="0.78"/><circle cx="308.80" cy="357.38" r="0.78"/><circle cx="311.50" cy="358.94" r="0.78"/></g>
<line x1="319.80" y1="372.30" x2="319.80" y2="380.00" stroke="#5a5a5a" stroke-width="1"/>
<line x1="317.70" y1="372.30" x2="321.90" y2="372.30" stroke="#444" stroke-width="1"/>
<rect x="316.10" y="380.50" width="7.40" height="93.10" fill="#000" stroke="#222" stroke-width="1"/>
<path d="M320.40 362.40L320.40 370.20M317.02 364.35L323.78 368.25M323.78 364.35L317.02 368.25" stroke="#000" stroke-width="0.95" fill="none"/><g fill="#000"><circle cx="323.10" cy="367.86" r="0.78"/><circle cx="320.40" cy="369.42" r="0.78"/><circle cx="317.70" cy="367.86" r="0.78"/><circle cx="317.70" cy="364.74" r="0.78"/><circle cx="320.40" cy="363.18" r="0.78"/><circle cx="323.10" cy="364.74" r="0.78"/></g>
<text x="200.80" y="407.90" font-size="9.75" text-anchor="middle" font-weight="normal" fill="#000" transform="rotate(-90 200.8 407.9)" stroke="#000" stroke-width="0.22">Apoptotic index (%)</text>
<text x="233.50" y="477.70" font-size="8.0" text-anchor="end" font-weight="normal" fill="#000" transform="rotate(-90 233.5 477.7)" stroke="#000" stroke-width="0.22">Control</text>
<text x="245.00" y="477.70" font-size="8.0" text-anchor="end" font-weight="normal" fill="#000" transform="rotate(-90 245.0 477.7)" stroke="#000" stroke-width="0.22">MAPK inh (1 µM)</text>
<text x="256.60" y="477.70" font-size="8.0" text-anchor="end" font-weight="normal" fill="#000" transform="rotate(-90 256.6 477.7)" stroke="#000" stroke-width="0.22">MAPK inh (10 µM)</text>
<text x="267.40" y="477.70" font-size="8.0" text-anchor="end" font-weight="normal" fill="#000" transform="rotate(-90 267.40000000000003 477.7)" stroke="#000" stroke-width="0.22">CD437 (1 µM)</text>
<text x="278.30" y="477.70" font-size="8.0" text-anchor="end" font-weight="normal" fill="#000" transform="rotate(-90 278.3 477.7)" stroke="#000" stroke-width="0.22">CD437+MAPK inh (1 µM)</text>
<text x="289.30" y="477.70" font-size="8.0" text-anchor="end" font-weight="normal" fill="#000" transform="rotate(-90 289.3 477.7)" stroke="#000" stroke-width="0.22">CD437+MAPK inh (10 µM)</text>
<text x="301.30" y="477.70" font-size="8.0" text-anchor="end" font-weight="normal" fill="#000" transform="rotate(-90 301.3 477.7)" stroke="#000" stroke-width="0.22">ST1926 (1 µM)</text>
<text x="312.40" y="477.70" font-size="8.0" text-anchor="end" font-weight="normal" fill="#000" transform="rotate(-90 312.40000000000003 477.7)" stroke="#000" stroke-width="0.22">ST1926+MAPK inh (1µM)</text>
<text x="323.50" y="477.70" font-size="8.0" text-anchor="end" font-weight="normal" fill="#000" transform="rotate(-90 323.5 477.7)" stroke="#000" stroke-width="0.22">ST1926+MAPK inh (10 µM)</text>
<line x1="372.40" y1="18.10" x2="372.40" y2="151.80" stroke="#666" stroke-width="1.2"/>
<line x1="369.10" y1="18.60" x2="372.40" y2="18.60" stroke="#555" stroke-width="1"/>
<text x="367.60" y="22.05" font-size="9.75" text-anchor="end" font-weight="normal" fill="#000" stroke="#000" stroke-width="0.22">500</text>
<line x1="369.10" y1="45.24" x2="372.40" y2="45.24" stroke="#555" stroke-width="1"/>
<text x="367.60" y="48.69" font-size="9.75" text-anchor="end" font-weight="normal" fill="#000" stroke="#000" stroke-width="0.22">400</text>
<line x1="369.10" y1="71.88" x2="372.40" y2="71.88" stroke="#555" stroke-width="1"/>
<text x="367.60" y="75.33" font-size="9.75" text-anchor="end" font-weight="normal" fill="#000" stroke="#000" stroke-width="0.22">300</text>
<line x1="369.10" y1="98.52" x2="372.40" y2="98.52" stroke="#555" stroke-width="1"/>
<text x="367.60" y="101.97" font-size="9.75" text-anchor="end" font-weight="normal" fill="#000" stroke="#000" stroke-width="0.22">200</text>
<line x1="369.10" y1="125.16" x2="372.40" y2="125.16" stroke="#555" stroke-width="1"/>
<text x="367.60" y="128.61" font-size="9.75" text-anchor="end" font-weight="normal" fill="#000" stroke="#000" stroke-width="0.22">100</text>
<line x1="369.10" y1="151.80" x2="372.40" y2="151.80" stroke="#555" stroke-width="1"/>
<text x="367.60" y="155.25" font-size="9.75" text-anchor="end" font-weight="normal" fill="#000" stroke="#000" stroke-width="0.22">0</text>
<line x1="368.80" y1="151.80" x2="475.40" y2="151.80" stroke="#555" stroke-width="1"/>
<text x="343.90" y="85.70" font-size="9.75" text-anchor="middle" font-weight="normal" fill="#000" transform="rotate(-90 343.9 85.7)" stroke="#000" stroke-width="0.22">No. cells (x 1,000)</text>
<line x1="378.10" y1="29.80" x2="378.10" y2="30.40" stroke="#5a5a5a" stroke-width="1"/>
<line x1="376.00" y1="29.80" x2="380.20" y2="29.80" stroke="#444" stroke-width="1"/>
<rect x="374.70" y="30.90" width="6.80" height="120.90" fill="#fff" stroke="#222" stroke-width="1"/>
<line x1="389.00" y1="33.50" x2="389.00" y2="39.40" stroke="#5a5a5a" stroke-width="1"/>
<line x1="386.90" y1="33.50" x2="391.10" y2="33.50" stroke="#444" stroke-width="1"/>
<rect x="385.60" y="39.90" width="6.80" height="111.90" fill="#cbcbcb" stroke="#222" stroke-width="1"/>
<line x1="399.90" y1="40.30" x2="399.90" y2="45.20" stroke="#5a5a5a" stroke-width="1"/>
<line x1="397.80" y1="40.30" x2="402.00" y2="40.30" stroke="#444" stroke-width="1"/>
<rect x="396.50" y="45.70" width="6.80" height="106.10" fill="#cbcbcb" stroke="#222" stroke-width="1"/>
<text x="380.80" y="21.20" font-size="9.2" text-anchor="start" font-weight="normal" fill="#000" transform="rotate(-90 380.8 21.2)" stroke="#000" stroke-width="0.22">92±1</text>
<text x="391.90" y="21.20" font-size="9.2" text-anchor="start" font-weight="normal" fill="#000" transform="rotate(-90 391.9 21.2)" stroke="#000" stroke-width="0.22">91±1</text>
<text x="403.10" y="21.20" font-size="9.2" text-anchor="start" font-weight="normal" fill="#000" transform="rotate(-90 403.1 21.2)" stroke="#000" stroke-width="0.22">86±1</text>
<text x="415.45" y="150.40" font-size="9.75" text-anchor="start" font-weight="normal" fill="#000" transform="rotate(-90 415.45 150.4)" stroke="#000" stroke-width="0.22">&lt;100</text>
<text x="426.55" y="150.40" font-size="9.75" text-anchor="start" font-weight="normal" fill="#000" transform="rotate(-90 426.55 150.4)" stroke="#000" stroke-width="0.22">&lt;100</text>
<text x="436.35" y="150.40" font-size="9.75" text-anchor="start" font-weight="normal" fill="#000" transform="rotate(-90 436.34999999999997 150.4)" stroke="#000" stroke-width="0.22">&lt;100</text>
<text x="448.05" y="150.40" font-size="9.75" text-anchor="start" font-weight="normal" fill="#000" transform="rotate(-90 448.05 150.4)" stroke="#000" stroke-width="0.22">&lt;100</text>
<text x="457.95" y="150.40" font-size="9.75" text-anchor="start" font-weight="normal" fill="#000" transform="rotate(-90 457.95 150.4)" stroke="#000" stroke-width="0.22">&lt;100</text>
<text x="470.25" y="150.40" font-size="9.75" text-anchor="start" font-weight="normal" fill="#000" transform="rotate(-90 470.25 150.4)" stroke="#000" stroke-width="0.22">&lt;100</text>
<text x="418.90" y="92.80" font-size="9.75" text-anchor="start" font-weight="normal" fill="#000" stroke="#000" stroke-width="0.22">MAPK inh = U0126</text>
<line x1="372.80" y1="178.10" x2="372.80" y2="312.20" stroke="#666" stroke-width="1.2"/>
<line x1="369.50" y1="178.60" x2="372.80" y2="178.60" stroke="#555" stroke-width="1"/>
<text x="368.20" y="182.05" font-size="9.75" text-anchor="end" font-weight="normal" fill="#000" stroke="#000" stroke-width="0.22">500</text>
<line x1="369.50" y1="205.32" x2="372.80" y2="205.32" stroke="#555" stroke-width="1"/>
<text x="368.20" y="208.77" font-size="9.75" text-anchor="end" font-weight="normal" fill="#000" stroke="#000" stroke-width="0.22">400</text>
<line x1="369.50" y1="232.04" x2="372.80" y2="232.04" stroke="#555" stroke-width="1"/>
<text x="368.20" y="235.49" font-size="9.75" text-anchor="end" font-weight="normal" fill="#000" stroke="#000" stroke-width="0.22">300</text>
<line x1="369.50" y1="258.76" x2="372.80" y2="258.76" stroke="#555" stroke-width="1"/>
<text x="368.20" y="262.21" font-size="9.75" text-anchor="end" font-weight="normal" fill="#000" stroke="#000" stroke-width="0.22">200</text>
<line x1="369.50" y1="285.48" x2="372.80" y2="285.48" stroke="#555" stroke-width="1"/>
<text x="368.20" y="288.93" font-size="9.75" text-anchor="end" font-weight="normal" fill="#000" stroke="#000" stroke-width="0.22">100</text>
<line x1="369.50" y1="312.20" x2="372.80" y2="312.20" stroke="#555" stroke-width="1"/>
<text x="365.60" y="316.05" font-size="9.75" text-anchor="end" font-weight="normal" fill="#000" stroke="#000" stroke-width="0.22">0</text>
<line x1="369.20" y1="312.20" x2="474.70" y2="312.20" stroke="#555" stroke-width="1"/>
<text x="346.60" y="245.95" font-size="9.75" text-anchor="middle" font-weight="normal" fill="#000" transform="rotate(-90 346.6 245.95)" stroke="#000" stroke-width="0.22">No. cells (x 1,000)</text>
<line x1="379.50" y1="189.60" x2="379.50" y2="190.90" stroke="#5a5a5a" stroke-width="1"/>
<line x1="377.40" y1="189.60" x2="381.60" y2="189.60" stroke="#444" stroke-width="1"/>
<rect x="375.70" y="191.40" width="7.60" height="120.80" fill="#fff" stroke="#222" stroke-width="1"/>
<line x1="390.75" y1="225.70" x2="390.75" y2="230.40" stroke="#5a5a5a" stroke-width="1"/>
<line x1="388.65" y1="225.70" x2="392.85" y2="225.70" stroke="#444" stroke-width="1"/>
<rect x="387.10" y="230.90" width="7.30" height="81.30" fill="#cbcbcb" stroke="#222" stroke-width="1"/>
<line x1="401.65" y1="198.40" x2="401.65" y2="209.40" stroke="#5a5a5a" stroke-width="1"/>
<line x1="399.55" y1="198.40" x2="403.75" y2="198.40" stroke="#444" stroke-width="1"/>
<rect x="398.00" y="209.90" width="7.30" height="102.30" fill="#cbcbcb" stroke="#222" stroke-width="1"/>
<text x="382.30" y="185.40" font-size="9.2" text-anchor="start" font-weight="normal" fill="#000" transform="rotate(-90 382.3 185.4)" stroke="#000" stroke-width="0.22">92±1</text>
<text x="393.10" y="185.40" font-size="9.2" text-anchor="start" font-weight="normal" fill="#000" transform="rotate(-90 393.1 185.4)" stroke="#000" stroke-width="0.22">89±1</text>
<text x="404.20" y="185.40" font-size="9.2" text-anchor="start" font-weight="normal" fill="#000" transform="rotate(-90 404.2 185.4)" stroke="#000" stroke-width="0.22">92±1</text>
<text x="414.25" y="311.20" font-size="9.75" text-anchor="start" font-weight="normal" fill="#000" transform="rotate(-90 414.25 311.2)" stroke="#000" stroke-width="0.22">&lt;100</text>
<text x="425.25" y="311.20" font-size="9.75" text-anchor="start" font-weight="normal" fill="#000" transform="rotate(-90 425.25 311.2)" stroke="#000" stroke-width="0.22">&lt;100</text>
<text x="436.25" y="311.20" font-size="9.75" text-anchor="start" font-weight="normal" fill="#000" transform="rotate(-90 436.25 311.2)" stroke="#000" stroke-width="0.22">&lt;100</text>
<text x="447.45" y="311.20" font-size="9.75" text-anchor="start" font-weight="normal" fill="#000" transform="rotate(-90 447.45 311.2)" stroke="#000" stroke-width="0.22">&lt;100</text>
<text x="458.45" y="311.20" font-size="9.75" text-anchor="start" font-weight="normal" fill="#000" transform="rotate(-90 458.45 311.2)" stroke="#000" stroke-width="0.22">&lt;100</text>
<text x="470.15" y="311.20" font-size="9.75" text-anchor="start" font-weight="normal" fill="#000" transform="rotate(-90 470.15 311.2)" stroke="#000" stroke-width="0.22">&lt;100</text>
<text x="418.80" y="202.70" font-size="9.75" text-anchor="start" font-weight="normal" fill="#000" stroke="#000" stroke-width="0.22">MAPK inh = PD169316</text>
<line x1="371.40" y1="340.30" x2="371.40" y2="474.00" stroke="#666" stroke-width="1.2"/>
<line x1="368.10" y1="340.80" x2="371.40" y2="340.80" stroke="#555" stroke-width="1"/>
<text x="367.60" y="344.25" font-size="9.75" text-anchor="end" font-weight="normal" fill="#000" stroke="#000" stroke-width="0.22">800</text>
<line x1="368.10" y1="374.10" x2="371.40" y2="374.10" stroke="#555" stroke-width="1"/>
<text x="367.60" y="377.55" font-size="9.75" text-anchor="end" font-weight="normal" fill="#000" stroke="#000" stroke-width="0.22">600</text>
<line x1="368.10" y1="407.40" x2="371.40" y2="407.40" stroke="#555" stroke-width="1"/>
<text x="367.60" y="410.85" font-size="9.75" text-anchor="end" font-weight="normal" fill="#000" stroke="#000" stroke-width="0.22">400</text>
<line x1="368.10" y1="440.70" x2="371.40" y2="440.70" stroke="#555" stroke-width="1"/>
<text x="367.60" y="444.15" font-size="9.75" text-anchor="end" font-weight="normal" fill="#000" stroke="#000" stroke-width="0.22">200</text>
<line x1="368.10" y1="474.00" x2="371.40" y2="474.00" stroke="#555" stroke-width="1"/>
<text x="367.60" y="477.45" font-size="9.75" text-anchor="end" font-weight="normal" fill="#000" stroke="#000" stroke-width="0.22">0</text>
<line x1="367.40" y1="474.00" x2="475.40" y2="474.00" stroke="#555" stroke-width="1"/>
<text x="343.70" y="407.85" font-size="9.75" text-anchor="middle" font-weight="normal" fill="#000" transform="rotate(-90 343.7 407.85)" stroke="#000" stroke-width="0.22">No. cells (x 1,000)</text>
<rect x="374.90" y="375.10" width="6.50" height="98.90" fill="#cbcbcb" stroke="#222" stroke-width="1"/>
<line x1="388.80" y1="368.50" x2="388.80" y2="372.30" stroke="#5a5a5a" stroke-width="1"/>
<line x1="386.70" y1="368.50" x2="390.90" y2="368.50" stroke="#444" stroke-width="1"/>
<rect x="385.50" y="372.80" width="6.60" height="101.20" fill="#cbcbcb" stroke="#222" stroke-width="1"/>
<line x1="400.10" y1="437.80" x2="400.10" y2="438.60" stroke="#5a5a5a" stroke-width="1"/>
<line x1="398.00" y1="437.80" x2="402.20" y2="437.80" stroke="#444" stroke-width="1"/>
<rect x="396.90" y="439.10" width="6.40" height="34.90" fill="#cbcbcb" stroke="#222" stroke-width="1"/>
<path d="M400.00 427.80L400.00 435.60M396.62 429.75L403.38 433.65M403.38 429.75L396.62 433.65" stroke="#000" stroke-width="0.95" fill="none"/><g fill="#000"><circle cx="402.70" cy="433.26" r="0.78"/><circle cx="400.00" cy="434.82" r="0.78"/><circle cx="397.30" cy="433.26" r="0.78"/><circle cx="397.30" cy="430.14" r="0.78"/><circle cx="400.00" cy="428.58" r="0.78"/><circle cx="402.70" cy="430.14" r="0.78"/></g>
<line x1="410.00" y1="439.00" x2="410.00" y2="439.80" stroke="#5a5a5a" stroke-width="1"/>
<line x1="407.90" y1="439.00" x2="412.10" y2="439.00" stroke="#444" stroke-width="1"/>
<rect x="406.60" y="440.30" width="6.80" height="33.70" fill="#8c8c8c" stroke="#222" stroke-width="1"/>
<path d="M409.90 429.80L409.90 437.60M406.52 431.75L413.28 435.65M413.28 431.75L406.52 435.65" stroke="#000" stroke-width="0.95" fill="none"/><g fill="#000"><circle cx="412.60" cy="435.26" r="0.78"/><circle cx="409.90" cy="436.82" r="0.78"/><circle cx="407.20" cy="435.26" r="0.78"/><circle cx="407.20" cy="432.14" r="0.78"/><circle cx="409.90" cy="430.58" r="0.78"/><circle cx="412.60" cy="432.14" r="0.78"/></g>
<line x1="420.85" y1="447.60" x2="420.85" y2="448.40" stroke="#5a5a5a" stroke-width="1"/>
<line x1="418.75" y1="447.60" x2="422.95" y2="447.60" stroke="#444" stroke-width="1"/>
<rect x="417.70" y="448.90" width="6.30" height="25.10" fill="#8c8c8c" stroke="#222" stroke-width="1"/>
<path d="M420.75 437.80L420.75 445.60M417.37 439.75L424.13 443.65M424.13 439.75L417.37 443.65" stroke="#000" stroke-width="0.95" fill="none"/><g fill="#000"><circle cx="423.45" cy="443.26" r="0.78"/><circle cx="420.75" cy="444.82" r="0.78"/><circle cx="418.05" cy="443.26" r="0.78"/><circle cx="418.05" cy="440.14" r="0.78"/><circle cx="420.75" cy="438.58" r="0.78"/><circle cx="423.45" cy="440.14" r="0.78"/></g>
<line x1="443.95" y1="451.30" x2="443.95" y2="453.80" stroke="#5a5a5a" stroke-width="1"/>
<line x1="441.85" y1="451.30" x2="446.05" y2="451.30" stroke="#444" stroke-width="1"/>
<rect x="440.40" y="454.30" width="7.10" height="19.70" fill="#000" stroke="#222" stroke-width="1"/>
<path d="M443.85 441.90L443.85 449.70M440.47 443.85L447.23 447.75M447.23 443.85L440.47 447.75" stroke="#000" stroke-width="0.95" fill="none"/><g fill="#000"><circle cx="446.55" cy="447.36" r="0.78"/><circle cx="443.85" cy="448.92" r="0.78"/><circle cx="441.15" cy="447.36" r="0.78"/><circle cx="441.15" cy="444.24" r="0.78"/><circle cx="443.85" cy="442.68" r="0.78"/><circle cx="446.55" cy="444.24" r="0.78"/></g>
<text x="382.60" y="359.20" font-size="9.2" text-anchor="start" font-weight="normal" fill="#000" transform="rotate(-90 382.6 359.2)" stroke="#000" stroke-width="0.22">90±1</text>
<text x="392.70" y="359.20" font-size="9.2" text-anchor="start" font-weight="normal" fill="#000" transform="rotate(-90 392.7 359.2)" stroke="#000" stroke-width="0.22">86±1</text>
<text x="403.00" y="359.20" font-size="9.2" text-anchor="start" font-weight="normal" fill="#000" transform="rotate(-90 403.0 359.2)" stroke="#000" stroke-width="0.22">69±1</text>
<text x="413.50" y="359.20" font-size="9.2" text-anchor="start" font-weight="normal" fill="#000" transform="rotate(-90 413.5 359.2)" stroke="#000" stroke-width="0.22">55±1</text>
<text x="423.20" y="359.20" font-size="9.2" text-anchor="start" font-weight="normal" fill="#000" transform="rotate(-90 423.2 359.2)" stroke="#000" stroke-width="0.22">51±1</text>
<text x="444.70" y="359.20" font-size="9.2" text-anchor="start" font-weight="normal" fill="#000" transform="rotate(-90 444.7 359.2)" stroke="#000" stroke-width="0.22">31±5</text>
<text x="433.85" y="472.00" font-size="9.75" text-anchor="start" font-weight="normal" fill="#000" transform="rotate(-90 433.84999999999997 472.0)" stroke="#000" stroke-width="0.22">&lt;100</text>
<text x="458.05" y="472.00" font-size="9.75" text-anchor="start" font-weight="normal" fill="#000" transform="rotate(-90 458.05 472.0)" stroke="#000" stroke-width="0.22">&lt;100</text>
<text x="467.75" y="472.00" font-size="9.75" text-anchor="start" font-weight="normal" fill="#000" transform="rotate(-90 467.75 472.0)" stroke="#000" stroke-width="0.22">&lt;100</text>
<text x="418.90" y="385.50" font-size="9.75" text-anchor="start" font-weight="normal" fill="#000" stroke="#000" stroke-width="0.22">MAPK inh = SP600125</text>
<text x="377.80" y="477.70" font-size="8.0" text-anchor="end" font-weight="normal" fill="#000" transform="rotate(-90 377.8 477.7)" stroke="#000" stroke-width="0.22">Control</text>
<text x="389.30" y="477.70" font-size="8.0" text-anchor="end" font-weight="normal" fill="#000" transform="rotate(-90 389.3 477.7)" stroke="#000" stroke-width="0.22">MAPK inh (1 µM)</text>
<text x="400.80" y="477.70" font-size="8.0" text-anchor="end" font-weight="normal" fill="#000" transform="rotate(-90 400.8 477.7)" stroke="#000" stroke-width="0.22">MAPK inh (10 µM)</text>
<text x="412.40" y="477.70" font-size="8.0" text-anchor="end" font-weight="normal" fill="#000" transform="rotate(-90 412.40000000000003 477.7)" stroke="#000" stroke-width="0.22">CD437 (1 µM)</text>
<text x="423.30" y="477.70" font-size="8.0" text-anchor="end" font-weight="normal" fill="#000" transform="rotate(-90 423.3 477.7)" stroke="#000" stroke-width="0.22">CD437+MAPK inh (1µM)</text>
<text x="434.30" y="477.70" font-size="8.0" text-anchor="end" font-weight="normal" fill="#000" transform="rotate(-90 434.3 477.7)" stroke="#000" stroke-width="0.22">CD437+MAPK inh (10 µM)</text>
<text x="445.40" y="477.70" font-size="8.0" text-anchor="end" font-weight="normal" fill="#000" transform="rotate(-90 445.40000000000003 477.7)" stroke="#000" stroke-width="0.22">ST1926 (1 µM)</text>
<text x="457.40" y="477.70" font-size="8.0" text-anchor="end" font-weight="normal" fill="#000" transform="rotate(-90 457.40000000000003 477.7)" stroke="#000" stroke-width="0.22">ST1926+MAPK inh (1µM)</text>
<text x="467.80" y="477.70" font-size="8.0" text-anchor="end" font-weight="normal" fill="#000" transform="rotate(-90 467.8 477.7)" stroke="#000" stroke-width="0.22">ST1926+MAPK inh (10 µM)</text>
</svg>
</body></html>
